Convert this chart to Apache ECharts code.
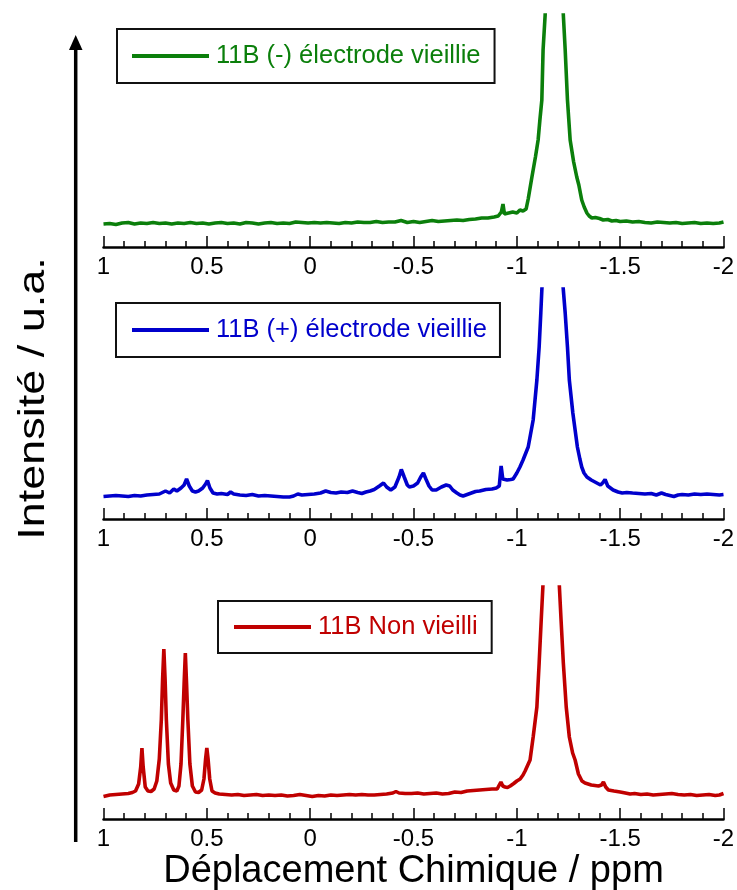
<!DOCTYPE html>
<html>
<head>
<meta charset="utf-8">
<script src="https://cdn.jsdelivr.net/npm/echarts@6/dist/echarts.min.js"></script>
<style>
html,body{margin:0;padding:0;background:#fff;}
#chart{width:737px;height:890px;}
</style>
</head>
<body>
<div id="chart"></div>
<script>
// x axis ticks (ppm), plotted inverted from 1 to -2
const xMin = -2;
const xMax = 1;
const xStep = 0.5;

const seriesNames = ['11B (-) électrode vieillie', '11B (+) électrode vieillie', '11B Non vieilli'];
const seriesColors = ['#0b7f0b', '#0000cc', '#c00000'];
const xTitle = 'Déplacement Chimique / ppm';
const yTitle = 'Intensité / u.a.';

// [chemical shift (ppm), intensity (u.a.)]
const greenSpectrum = [
[1.00,23],[0.97,23.5],[0.94,22.5],[0.91,24],[0.88,24.5],[0.85,23],[0.82,24],[0.79,23.5],[0.76,24.5],[0.73,23.5],
[0.70,24],[0.67,23],[0.64,24],[0.61,23.5],[0.58,24.5],[0.55,23.5],[0.52,24],[0.49,23],[0.46,24],[0.43,24.5],
[0.40,23.5],[0.37,24],[0.34,23],[0.31,24.5],[0.28,24],[0.25,23],[0.22,24],[0.19,24.5],[0.16,23.5],[0.13,24],
[0.10,23.5],[0.07,25],[0.04,24.5],[0.01,24],[-0.02,24.5],[-0.05,24],[-0.08,24.5],[-0.11,24],[-0.14,23.5],[-0.17,24.5],
[-0.20,24],[-0.23,25],[-0.26,24.5],[-0.29,24.5],[-0.32,25.5],[-0.35,24.5],[-0.38,25],[-0.41,25],[-0.44,26.5],[-0.47,24.5],
[-0.50,25.5],[-0.53,24.5],[-0.56,25.5],[-0.59,26.5],[-0.62,25.5],[-0.65,26],[-0.68,26.5],[-0.71,27],[-0.74,26.5],[-0.77,27.5],
[-0.80,28],[-0.83,29],[-0.86,29],[-0.89,30],[-0.91,31],[-0.925,35],[-0.933,43],[-0.94,33],[-0.96,34],[-0.98,35],
[-1.00,34],[-1.015,37],[-1.03,36],[-1.045,38],[-1.055,48],[-1.064,50],[-1.073,70],[-1.09,90],[-1.103,107],[-1.112,128],
[-1.121,147],[-1.127,197],[-1.137,232],[-1.15,300],[-1.18,350],[-1.21,300],[-1.225,232],[-1.234,197],[-1.245,147],[-1.258,107],
[-1.275,85],[-1.29,70],[-1.30,62],[-1.306,60],[-1.314,47],[-1.326,40],[-1.339,34],[-1.35,31],[-1.363,29],[-1.38,29.5],
[-1.40,28.5],[-1.418,27],[-1.44,27.5],[-1.46,26],[-1.48,26.5],[-1.50,25.5],[-1.53,26],[-1.56,25],[-1.59,25.5],[-1.62,24.5],
[-1.65,24],[-1.68,25],[-1.71,24.5],[-1.74,24],[-1.77,24.5],[-1.80,23.5],[-1.83,24],[-1.86,24.5],[-1.89,23.5],[-1.92,24],
[-1.95,23.5],[-1.98,24],[-2.00,25]
];

const blueSpectrum = [
[1.00,22.5],[0.97,23],[0.94,23.5],[0.91,23],[0.88,22.5],[0.85,23.5],[0.82,23],[0.79,24],[0.76,24.5],[0.73,25],
[0.70,28],[0.68,26],[0.66,30],[0.645,28],[0.625,31],[0.61,34],[0.598,40],[0.585,33],[0.57,28],[0.555,27],
[0.54,28],[0.52,31],[0.506,35],[0.497,38.5],[0.485,31],[0.47,26],[0.45,25],[0.43,25.5],[0.40,24.5],[0.385,27],
[0.37,25],[0.34,24],[0.31,23.5],[0.28,24.5],[0.25,23],[0.22,23.5],[0.19,23],[0.16,22.5],[0.13,22],[0.10,22],
[0.08,23],[0.06,25],[0.04,24],[0.01,24.5],[-0.02,25],[-0.05,26],[-0.075,28],[-0.10,26.5],[-0.125,26],[-0.15,27],
[-0.18,26.5],[-0.205,28],[-0.23,26.5],[-0.25,25.5],[-0.27,27],[-0.29,28],[-0.31,29.5],[-0.335,33],[-0.355,36],[-0.37,32],
[-0.39,29],[-0.41,32],[-0.43,42],[-0.441,49.5],[-0.455,42],[-0.47,34],[-0.48,32],[-0.50,33],[-0.52,36],[-0.535,42],
[-0.548,46],[-0.56,40],[-0.575,33],[-0.59,29],[-0.61,29],[-0.635,32],[-0.658,34],[-0.675,33],[-0.69,29],[-0.71,26],
[-0.725,24],[-0.74,23],[-0.76,24.5],[-0.78,26],[-0.80,27.5],[-0.82,28],[-0.85,29.5],[-0.88,30],[-0.90,31],[-0.915,33],
[-0.924,53],[-0.932,40],[-0.953,39],[-0.97,39.5],[-0.982,40],[-1.00,46],[-1.015,52],[-1.03,59],[-1.055,72],[-1.079,99],
[-1.097,139],[-1.108,172],[-1.116,206],[-1.121,229],[-1.14,300],[-1.17,350],[-1.20,300],[-1.225,229],[-1.234,206],[-1.245,172],
[-1.254,139],[-1.271,106],[-1.293,72],[-1.305,60],[-1.314,52],[-1.325,46],[-1.339,42],[-1.36,39],[-1.387,36],[-1.405,34],
[-1.415,36],[-1.427,39.5],[-1.44,33],[-1.466,29],[-1.49,27],[-1.51,26],[-1.532,26.5],[-1.56,26],[-1.59,25.5],[-1.62,25],
[-1.65,25.5],[-1.675,24],[-1.70,26],[-1.72,24.5],[-1.74,23.5],[-1.76,22.5],[-1.78,24],[-1.80,24.5],[-1.83,24],[-1.86,25],
[-1.89,24.5],[-1.92,25],[-1.95,24.5],[-1.98,24],[-2.00,24.5]
];

const redSpectrum = [
[1.00,22.5],[0.97,24],[0.94,24.5],[0.91,25],[0.88,25.5],[0.86,26.5],[0.845,28],[0.83,35],[0.82,52],[0.814,71],
[0.808,52],[0.798,32],[0.785,28],[0.77,27.5],[0.755,30],[0.742,38],[0.73,60],[0.72,100],[0.714,140],[0.708,170],
[0.702,140],[0.696,100],[0.686,55],[0.675,36],[0.66,29],[0.645,28],[0.635,33],[0.625,55],[0.616,100],[0.61,135],
[0.604,166],[0.598,135],[0.592,100],[0.582,55],[0.57,33],[0.555,27],[0.54,26.5],[0.525,29],[0.514,40],[0.506,60],
[0.500,71],[0.494,60],[0.486,40],[0.475,28],[0.46,26],[0.44,25],[0.41,24.5],[0.38,24],[0.35,24.5],[0.32,23.5],
[0.29,24],[0.26,24.5],[0.23,23.5],[0.20,24],[0.17,23.5],[0.14,24],[0.11,23],[0.08,23.5],[0.05,24.5],[0.02,23.5],
[-0.01,22.5],[-0.04,23.5],[-0.07,23],[-0.10,24],[-0.13,23.5],[-0.16,24],[-0.19,24.5],[-0.22,24],[-0.25,24.5],[-0.28,24],
[-0.31,24],[-0.34,24.5],[-0.37,25],[-0.40,26],[-0.415,27.5],[-0.43,26],[-0.46,25.5],[-0.49,25.5],[-0.52,26],[-0.55,25],
[-0.58,25.5],[-0.61,26],[-0.64,25],[-0.67,25.5],[-0.70,27],[-0.73,26.5],[-0.76,28],[-0.79,28.5],[-0.82,29],[-0.85,29.5],
[-0.88,30],[-0.905,30],[-0.915,34],[-0.923,37],[-0.932,33],[-0.943,32],[-0.955,31.5],[-0.968,33],[-0.985,35.5],[-1.00,38],
[-1.016,40],[-1.03,44],[-1.04,48],[-1.064,59],[-1.079,82],[-1.097,112],[-1.108,156],[-1.118,199],[-1.126,232],[-1.14,300],
[-1.166,350],[-1.19,300],[-1.206,232],[-1.214,199],[-1.225,156],[-1.239,112],[-1.254,82],[-1.27,66],[-1.282,59],[-1.298,45],
[-1.315,38],[-1.33,36],[-1.36,34],[-1.395,33],[-1.41,34],[-1.419,37],[-1.43,32],[-1.443,29],[-1.47,28],[-1.50,27],
[-1.525,26],[-1.548,25],[-1.57,25.5],[-1.60,24.5],[-1.63,25],[-1.66,24],[-1.69,24.5],[-1.72,25],[-1.75,25.5],[-1.78,24.5],
[-1.81,24],[-1.84,24.5],[-1.87,23.5],[-1.90,24],[-1.93,24.5],[-1.96,23.5],[-1.98,24],[-2.00,25.5]
];

const spectra = [greenSpectrum, blueSpectrum, redSpectrum];

const FONT = 'Liberation Sans, Arial, sans-serif';
const gridTops = [15, 289, 587];
const gridHeights = [232, 230, 232];
const legendBoxes = [
  {left: 117, top: 29, padding: [14, 14, 14, 15]},
  {left: 116, top: 303, padding: [14, 13, 14, 16]},
  {left: 218, top: 601, padding: [13, 14, 13, 16]}
];

const chart = echarts.init(document.getElementById('chart'), null, {renderer: 'canvas'});

const grids = [], xAxes = [], yAxes = [], series = [], legends = [];
for (let i = 0; i < 3; i++) {
  grids.push({left: 103.5, width: 620, top: gridTops[i], height: gridHeights[i],
              containLabel: false, outerBoundsMode: 'none'});
  xAxes.push({
    gridIndex: i, type: 'value', min: xMin, max: xMax, interval: xStep, inverse: true,
    axisLine: {show: true, onZero: false, lineStyle: {color: '#000', width: 2.5}},
    axisTick: {show: true, inside: true, length: 11, lineStyle: {color: '#000', width: 1.5}},
    minorTick: {show: true, splitNumber: 5, length: 6, lineStyle: {color: '#000', width: 1.5}},
    splitLine: {show: false}, minorSplitLine: {show: false},
    axisLabel: {color: '#000', fontSize: 24, fontFamily: FONT, margin: 8},
    name: i === 2 ? xTitle : '',
    nameLocation: 'middle', nameGap: 34,
    nameTextStyle: {color: '#000', fontSize: 38, fontFamily: FONT}
  });
  yAxes.push({gridIndex: i, type: 'value', min: 0, max: gridHeights[i], show: false});
  series.push({
    name: seriesNames[i], type: 'line', xAxisIndex: i, yAxisIndex: i,
    data: spectra[i], symbol: 'none', showSymbol: false, clip: true,
    lineStyle: {color: seriesColors[i], width: 3.6}, itemStyle: {color: seriesColors[i]},
    animation: false
  });
  legends.push({
    data: [seriesNames[i]], left: legendBoxes[i].left, top: legendBoxes[i].top,
    padding: legendBoxes[i].padding, borderColor: '#111', borderWidth: 2, backgroundColor: '#fff',
    icon: 'rect', itemWidth: 77, itemHeight: 4, itemGap: 0, selectedMode: false,
    textStyle: {color: seriesColors[i], fontSize: 25.5, fontFamily: FONT, padding: [0, 0, 0, 2]}
  });
}

chart.setOption({
  animation: false,
  backgroundColor: '#fff',
  grid: grids, xAxis: xAxes, yAxis: yAxes, series: series, legend: legends,
  graphic: [
    {type: 'line', shape: {x1: 75.7, y1: 842, x2: 75.7, y2: 46}, style: {stroke: '#000', lineWidth: 3.5}},
    {type: 'polygon', shape: {points: [[75.7, 35], [69, 50], [82.5, 50]]}, style: {fill: '#000'}},
    {type: 'text', x: 34, y: 398.5, rotation: Math.PI / 2, scaleX: 1.25, scaleY: 1,
     style: {text: yTitle, fill: '#000', font: '36px ' + FONT, textAlign: 'center', textVerticalAlign: 'middle'}}
  ]
});
</script>
</body>
</html>
